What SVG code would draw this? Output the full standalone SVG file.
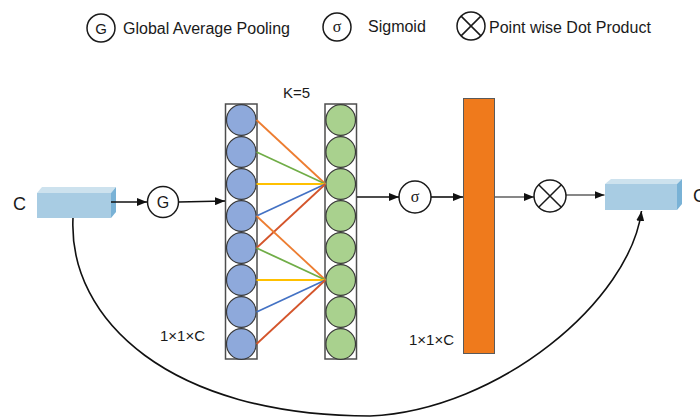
<svg xmlns="http://www.w3.org/2000/svg" width="700" height="418" viewBox="0 0 700 418">
  <style>
    .txt { font-family: "Liberation Sans", Arial, sans-serif; fill: #1a1a1a; }
    .legend { font-size: 16px; }
    .dim { font-size: 15px; }
    .op { fill: #ffffff; stroke: #1a1a1a; stroke-width: 1.5; }
    .col { fill: #ffffff; stroke: #4d4d4d; stroke-width: 1.5; }
    .blue { fill: #8EA9DB; stroke: #3a3a3a; stroke-width: 1.2; }
    .green { fill: #A9D18E; stroke: #3a3a3a; stroke-width: 1.2; }
    .flow { fill: none; stroke: #111111; stroke-width: 1.6; marker-end: url(#arrow); }
    .thin { stroke-width: 1.1; }
    .w { fill: none; stroke-width: 1.8; }
    .front { fill: #A8CCE3; }
    .top { fill: #CDE2EE; }
    .side { fill: #79B2D6; }
  </style>
  <defs>
    <marker id="arrow" markerUnits="userSpaceOnUse" markerWidth="10" markerHeight="8" refX="10" refY="4" orient="auto">
      <path d="M0,0 L10,4 L0,8 z" fill="#111111"/>
    </marker>
  </defs>

  <rect width="700" height="418" fill="#ffffff"/>

  <!-- legend -->
  <g id="legend">
    <circle class="op" cx="101" cy="28" r="14"/>
    <text class="txt" x="101" y="33.5" font-size="15" text-anchor="middle">G</text>
    <text class="txt legend" x="123" y="34">Global Average Pooling</text>
    <circle class="op" cx="337" cy="27" r="14"/>
    <text x="337" y="32" font-family="'Liberation Serif', serif" font-size="16" fill="#1a1a1a" text-anchor="middle">σ</text>
    <text class="txt legend" x="368" y="32">Sigmoid</text>
    <circle class="op" cx="471" cy="26" r="14"/>
    <path d="M461.1,16.1 L480.9,35.9 M480.9,16.1 L461.1,35.9" stroke="#1a1a1a" stroke-width="1.5"/>
    <text class="txt legend" x="489" y="33">Point wise Dot Product</text>
  </g>

  <!-- input feature map -->
  <g id="input">
    <text class="txt" x="13" y="210" font-size="18">C</text>
    <rect class="front" x="37" y="193" width="74" height="25"/>
    <polygon class="top" points="37,193 42,187 116,187 111,193"/>
    <polygon class="side" points="111,193 116,187 116,212 111,218"/>
  </g>

  <!-- global average pooling -->
  <g id="gap">
    <circle class="op" cx="163" cy="202" r="15.5"/>
    <text class="txt" x="163" y="207.5" font-size="16" text-anchor="middle">G</text>
  </g>

  <!-- pooled channel vector -->
  <g id="pooled">
    <rect class="col" x="225.5" y="104" width="31.5" height="255"/>
    <ellipse class="blue" cx="241.3" cy="120" rx="14.8" ry="15.4"/>
    <ellipse class="blue" cx="241.3" cy="152" rx="14.8" ry="15.4"/>
    <ellipse class="blue" cx="241.3" cy="184" rx="14.8" ry="15.4"/>
    <ellipse class="blue" cx="241.3" cy="216" rx="14.8" ry="15.4"/>
    <ellipse class="blue" cx="241.3" cy="248" rx="14.8" ry="15.4"/>
    <ellipse class="blue" cx="241.3" cy="280" rx="14.8" ry="15.4"/>
    <ellipse class="blue" cx="241.3" cy="312" rx="14.8" ry="15.4"/>
    <ellipse class="blue" cx="241.3" cy="344" rx="14.8" ry="15.4"/>
    <text class="txt dim" x="160" y="341">1×1×C</text>
  </g>

  <!-- 1D convolution output -->
  <g id="conv">
    <text class="txt dim" x="283" y="98">K=5</text>
    <rect class="col" x="325" y="104" width="31.5" height="255"/>
    <ellipse class="green" cx="340.7" cy="120" rx="14.8" ry="15.4"/>
    <ellipse class="green" cx="340.7" cy="152" rx="14.8" ry="15.4"/>
    <ellipse class="green" cx="340.7" cy="184" rx="14.8" ry="15.4"/>
    <ellipse class="green" cx="340.7" cy="216" rx="14.8" ry="15.4"/>
    <ellipse class="green" cx="340.7" cy="248" rx="14.8" ry="15.4"/>
    <ellipse class="green" cx="340.7" cy="280" rx="14.8" ry="15.4"/>
    <ellipse class="green" cx="340.7" cy="312" rx="14.8" ry="15.4"/>
    <ellipse class="green" cx="340.7" cy="344" rx="14.8" ry="15.4"/>
  </g>

  <!-- sigmoid -->
  <g id="sigmoid">
    <circle class="op" cx="415" cy="197" r="16"/>
    <text x="415" y="202" font-family="'Liberation Serif', serif" font-size="16" fill="#1a1a1a" text-anchor="middle">σ</text>
  </g>

  <!-- channel weights -->
  <g id="weights">
    <rect x="463.5" y="98.5" width="31" height="255" fill="#EF7A1C" stroke="#5a5a5a" stroke-width="1"/>
    <text class="txt dim" x="409" y="345">1×1×C</text>
  </g>

  <!-- point-wise product -->
  <g id="product">
    <circle class="op" cx="550" cy="196" r="16"/>
    <path d="M538.7,184.7 L561.3,207.3 M561.3,184.7 L538.7,207.3" stroke="#1a1a1a" stroke-width="1.5"/>
  </g>

  <!-- output feature map -->
  <g id="output">
    <rect class="front" x="605" y="184" width="72" height="26"/>
    <polygon class="top" points="605,184 611,179 682,179 677,184"/>
    <polygon class="side" points="677,184 682,179 682,204 677,210"/>
    <text class="txt" x="693" y="202" font-size="18">C</text>
  </g>

  <!-- kernel connections and data flow -->
  <g id="connectors">
    <g class="w">
      <line x1="256.5" y1="120" x2="325.5" y2="184" stroke="#ED7D31"/>
      <line x1="256.5" y1="152" x2="325.5" y2="184" stroke="#70AD47"/>
      <line x1="256.5" y1="184" x2="325.5" y2="184" stroke="#FFC000"/>
      <line x1="256.5" y1="216" x2="325.5" y2="184" stroke="#4472C4"/>
      <line x1="256.5" y1="248" x2="325.5" y2="184" stroke="#D4552B"/>
      <line x1="256.5" y1="216" x2="325.5" y2="280" stroke="#ED7D31"/>
      <line x1="256.5" y1="248" x2="325.5" y2="280" stroke="#70AD47"/>
      <line x1="256.5" y1="280" x2="325.5" y2="280" stroke="#FFC000"/>
      <line x1="256.5" y1="312" x2="325.5" y2="280" stroke="#4472C4"/>
      <line x1="256.5" y1="344" x2="325.5" y2="280" stroke="#D4552B"/>
    </g>
    <path class="flow" d="M111,202 L147,202"/>
    <path class="flow" d="M178.5,202 L225,201"/>
    <path class="flow" d="M357,197 L399,197"/>
    <path class="flow" d="M431,197 L463,197"/>
    <path class="flow thin" d="M495,197 L534,197"/>
    <path class="flow thin" d="M566,195 L604.5,195"/>
    <path class="flow" d="M73,218 C68,320 170,416 370,416 C500,410 630,300 641.5,211"/>
  </g>
</svg>
